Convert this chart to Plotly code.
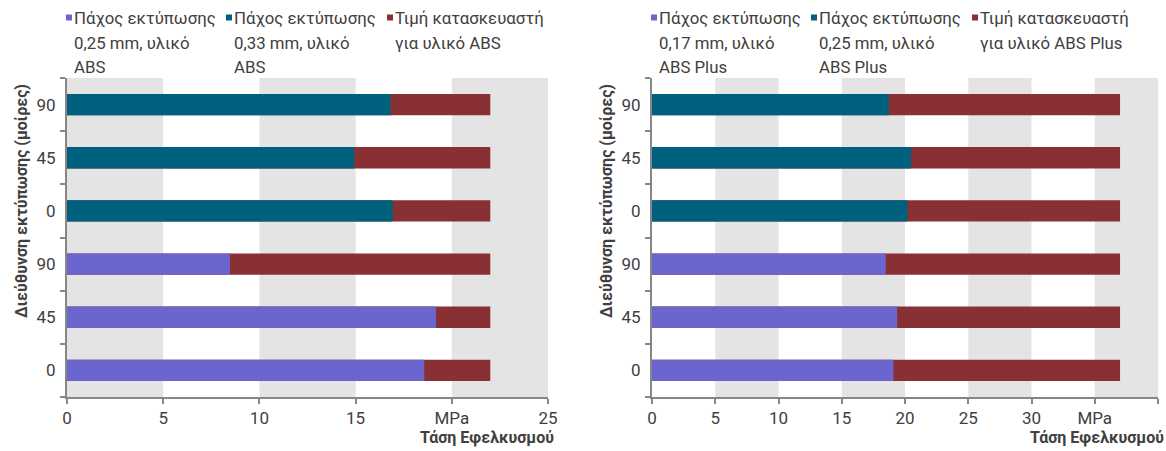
import plotly.graph_objects as go

W, H = 1166, 451

# ---------------- data ----------------
angles = ["0", "45", "90"]
rows = angles + angles  # bottom group (thin layer), top group (thick layer)

left_series = ["Πάχος εκτύπωσης\n0,25 mm, υλικό\nABS",
               "Πάχος εκτύπωσης\n0,33 mm, υλικό\nABS",
               "Τιμή κατασκευαστή\nγια υλικό ABS"]
left_layer1 = [18.57, 19.18, 8.47]     # 0.25 mm, angles 0/45/90
left_layer2 = [16.93, 14.93, 16.82]    # 0.33 mm, angles 0/45/90
left_maker = [22, 22, 22, 22, 22, 22]  # manufacturer value
left_ticks = [0, 5, 10, 15, 20, 25]
left_ticktext = ["0", "5", "10", "15", "MPa", "25"]

right_series = ["Πάχος εκτύπωσης\n0,17 mm, υλικό\nABS Plus",
                "Πάχος εκτύπωσης\n0,25 mm, υλικό\nABS Plus",
                "Τιμή κατασκευαστή\nγια υλικό ABS Plus"]
right_layer1 = [19.09, 19.38, 18.48]   # 0.17 mm
right_layer2 = [20.20, 20.48, 18.72]   # 0.25 mm
right_maker = [37, 37, 37, 37, 37, 37]
right_ticks = [0, 5, 10, 15, 20, 25, 30, 35, 40]
right_ticktext = ["0", "5", "10", "15", "20", "25", "30", "MPa", "40"]

y_title = "Διεύθυνση εκτύπωσης (μοίρες)"
x_title = "Τάση Εφελκυσμού"

# ---------------- style ----------------
COL_PURPLE = "#6A66CE"
COL_TEAL = "#00617F"
COL_RED = "#883034"
COLORS = [COL_PURPLE, COL_TEAL, COL_RED]
BAND = "#E4E4E4"
AXIS = "#868686"
TXT = "#404040"
FONT = "Roboto"

# pixel layout
L1, R1 = 67, 548
L2, R2 = 652, 1158
PT, PB = 78, 397
LEG_OFFS = [-1, 159, 320]   # legend marker offsets from plot-left (px)


def px(x):
    return x / W


def py(y):
    return 1 - y / H


fig = go.Figure()
pos = list(range(len(rows)))

panels = [
    ("x", "y", left_series, left_layer1, left_layer2, left_maker, left_ticks, left_ticktext, L1, R1, 0),
    ("x2", "y2", right_series, right_layer1, right_layer2, right_maker, right_ticks, right_ticktext, L2, R2, 1),
]

shapes = []
annotations = []

for xa, ya, names, s1, s2, mk, ticks, ticktext, Lp, Rp, band_parity in panels:
    fig.add_trace(go.Bar(y=pos, x=mk, orientation="h", marker_color=COL_RED,
                         marker_line_width=0, xaxis=xa, yaxis=ya, showlegend=False,
                         name=names[2].replace("\n", " ")))
    fig.add_trace(go.Bar(y=pos[:3], x=s1, orientation="h", marker_color=COL_PURPLE,
                         marker_line_width=0, xaxis=xa, yaxis=ya, showlegend=False,
                         name=names[0].replace("\n", " ")))
    fig.add_trace(go.Bar(y=pos[3:], x=s2, orientation="h", marker_color=COL_TEAL,
                         marker_line_width=0, xaxis=xa, yaxis=ya, showlegend=False,
                         name=names[1].replace("\n", " ")))

    # alternating vertical bands
    for i in range(len(ticks) - 1):
        if i % 2 == band_parity:
            shapes.append(dict(type="rect", xref=xa, yref=ya + " domain",
                               x0=ticks[i], x1=ticks[i + 1], y0=0, y1=1,
                               fillcolor=BAND, line_width=0, layer="below"))

    # legend (manual, tight layout like the original)
    for k, name in enumerate(names):
        mx = Lp + LEG_OFFS[k]
        shapes.append(dict(type="rect", xref="paper", yref="paper",
                           x0=px(mx), x1=px(mx + 6), y0=py(20.5), y1=py(14.5),
                           fillcolor=COLORS[k], line_width=0))
        for j, line in enumerate(name.split("\n")):
            annotations.append(dict(text=line, xref="paper", yref="paper",
                                    x=px(mx + 6), y=py(18 + j * 24.5),
                                    xanchor="left", yanchor="middle", showarrow=False,
                                    font=dict(family=FONT, size=16.8, color=TXT)))

    # axis titles
    annotations.append(dict(text="<b>" + x_title + "</b>", xref="paper", yref="paper",
                            x=px(Rp + 8), y=py(437), xanchor="right", yanchor="middle",
                            showarrow=False, font=dict(family=FONT, size=16, color=TXT)))
    annotations.append(dict(text="<b>" + y_title + "</b>", xref="paper", yref="paper",
                            x=px(Lp - 46), y=py(201), xanchor="center", yanchor="middle",
                            textangle=-90, showarrow=False,
                            font=dict(family=FONT, size=16, color=TXT)))

xaxis_common = dict(showgrid=False, zeroline=False, showline=True, linecolor=AXIS,
                    linewidth=2, ticks="outside", ticklen=5, tickcolor=AXIS, tickwidth=1.5,
                    tickfont=dict(family=FONT, size=17, color=TXT), automargin=False)
yaxis_common = dict(showgrid=False, zeroline=False, showline=True, linecolor=AXIS,
                    linewidth=2, ticks="", range=[-0.5, len(rows) - 0.5],
                    tickmode="array", tickvals=pos, ticktext=rows, automargin=False,
                    tickfont=dict(family=FONT, size=17, color=TXT), ticklabelstandoff=6,
                    minor=dict(tickmode="array", tickvals=[p - 0.5 for p in pos] + [pos[-1] + 0.5],
                               ticks="outside", ticklen=5, tickcolor=AXIS, tickwidth=1.5,
                               showgrid=False))

fig.update_layout(
    width=W, height=H,
    margin=dict(l=0, r=0, t=0, b=0, autoexpand=False),
    paper_bgcolor="white", plot_bgcolor="white",
    barmode="overlay", bargap=0.6,
    showlegend=False,
    xaxis=dict(xaxis_common, domain=[px(L1), px(R1)], range=[left_ticks[0], left_ticks[-1]],
               tickmode="array", tickvals=left_ticks, ticktext=left_ticktext, anchor="y"),
    yaxis=dict(yaxis_common, domain=[py(PB), py(PT)], anchor="x"),
    xaxis2=dict(xaxis_common, domain=[px(L2), px(R2)], range=[right_ticks[0], right_ticks[-1]],
                tickmode="array", tickvals=right_ticks, ticktext=right_ticktext, anchor="y2"),
    yaxis2=dict(yaxis_common, domain=[py(PB), py(PT)], anchor="x2"),
    shapes=shapes,
    annotations=annotations,
    font=dict(family=FONT, color=TXT),
)

fig.write_html("out.html", config={"displayModeBar": False},
               post_script="document.body.style.margin='0';document.body.style.overflow='hidden';")
